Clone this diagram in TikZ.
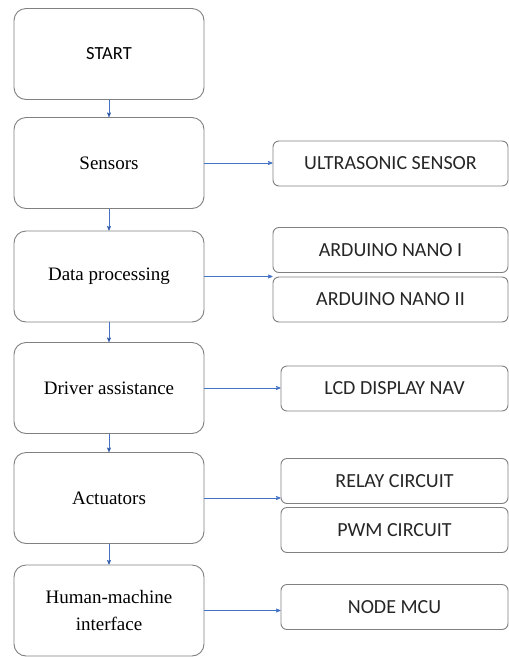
\documentclass[tikz,border=0pt]{standalone}
\usepackage{fontspec}
\setmainfont{Liberation Serif}
\newfontfamily\calfont{Carlito}
\usetikzlibrary{arrows,positioning}
\definecolor{lb}{RGB}{68,114,196}
\tikzset{
    stage/.style =  {rectangle,
                    rounded corners=12pt,
                    fill=white,
                    draw=black!50,
                    text=black,
                    line width=0.9pt,
                    align=center,
                    minimum width=190pt,
                    minimum height=91pt,
                    font=\fontsize{19}{27}\selectfont},
    part/.style =   {rectangle,
                    rounded corners=6pt,
                    fill=white,
                    draw=black!50,
                    text=black!85,
                    line width=0.9pt,
                    minimum width=227pt,
                    minimum height=45pt,
                    font=\calfont\fontsize{20}{22}\selectfont},
    wide/.style =   {minimum width=235pt},
    link/.style =   {draw=lb,
                    line width=0.7pt,
                    ->},
    >=stealth'}

\begin{document}
\begin{tikzpicture}[x=1pt,y=-1pt]
                \useasboundingbox (0,0) rectangle (509,657);
                % main chain
                \node[stage]        (start) at (109,54)     {\calfont\fontsize{18.5}{20}\selectfont START};
                \node[stage]        (sen)   at (109,163)    {Sensors};
                \node[stage]        (dat)   at (109,276.5)  {Data processing};
                \node[stage]        (drv)   at (109,388)    {Driver assistance};
                \node[stage]        (act)   at (109,498)    {Actuators};
                \node[stage]        (hmi)   at (109,610.5)  {Human-machine\\interface};
                % hardware
                \node[part,wide]    (ultra) at (390.5,163.5) {ULTRASONIC SENSOR};
                \node[part,wide]    (nanoa) at (390.5,250)   {ARDUINO NANO I};
                \node[part,wide]    (nanob) at (390.5,299.5) {ARDUINO NANO II};
                \node[part]         (lcd)   at (394.5,388.5) {LCD DISPLAY NAV};
                \node[part]         (relay) at (394.5,481)   {RELAY CIRCUIT};
                \node[part]         (pwm)   at (394.5,530)   {PWM CIRCUIT};
                \node[part]         (mcu)   at (394.5,607)   {NODE MCU};

                \path [link]    (start) edge []     node [] {} (sen)
                                (sen)   edge []     node [] {} (dat)
                                (dat)   edge []     node [] {} (drv)
                                (drv)   edge []     node [] {} (act)
                                (act)   edge []     node [] {} (hmi);
                \draw [link]    (sen.east) -- (sen.east -| ultra.west);
                \draw [link]    (dat.east) -- (dat.east -| nanoa.west);
                \draw [link]    (drv.east) -- (drv.east -| lcd.west);
                \draw [link]    (act.east) -- (act.east -| relay.west);
                \draw [link]    (hmi.east) -- (hmi.east -| mcu.west);
\end{tikzpicture}
\end{document}
